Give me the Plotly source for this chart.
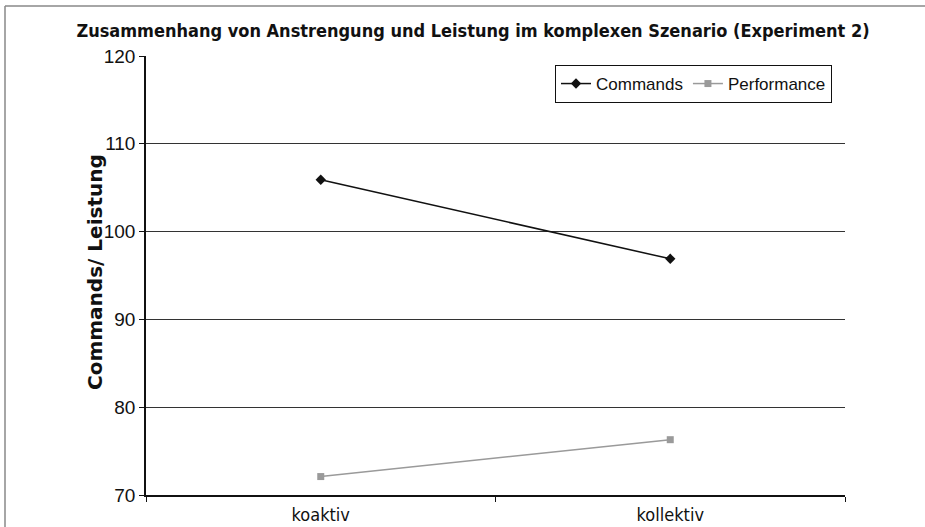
import plotly.graph_objects as go

categories = ["koaktiv", "kollektiv"]
commands = [105.9, 96.9]
performance = [72.1, 76.3]
y_ticks = [70, 80, 90, 100, 110, 120]

title_text = "Zusammenhang von Anstrengung und Leistung im komplexen Szenario (Experiment 2)"
y_title = "Commands/ Leistung"
narrow = "Liberation Sans Narrow, DejaVu Sans Condensed, Arial Narrow, sans-serif"
sans = "Liberation Sans, Arial, sans-serif"

fig = go.Figure()
fig.add_trace(go.Scatter(
    x=categories, y=commands, name="Commands", mode="lines+markers",
    line=dict(color="#111111", width=1.5),
    marker=dict(symbol="diamond", size=8, color="#111111"),
))
fig.add_trace(go.Scatter(
    x=categories, y=performance, name="Performance", mode="lines+markers",
    line=dict(color="#9a9a9a", width=1.5),
    marker=dict(symbol="square", size=7, color="#9a9a9a"),
))

L, R, T, B = 146, 80, 56, 32
W, H = 925, 527
pw, ph = W - L - R, H - T - B

fig.update_layout(
    width=W, height=H,
    margin=dict(l=L, r=R, t=T, b=B, pad=0, autoexpand=False),
    paper_bgcolor="white", plot_bgcolor="white",
    title=dict(text="<b>" + title_text + "</b>", x=473 / W, xanchor="center",
               y=1 - 31 / H, yanchor="middle",
               font=dict(family=narrow, size=18, color="#111111")),
    showlegend=True,
    legend=dict(orientation="h", x=(832 - L) / pw, xanchor="right",
                y=(H - B - 65) / ph, yanchor="top",
                bordercolor="#111111", borderwidth=1, bgcolor="white",
                font=dict(family=sans, size=17, color="#111111"),
                tracegroupgap=0),
    xaxis=dict(type="category", range=[-0.5, 1.5], showgrid=False, automargin=False,
               showline=True, linecolor="#111111", linewidth=1.5,
               ticks="outside", tickson="boundaries", ticklen=5, tickcolor="#111111",
               ticklabelstandoff=3,
               tickfont=dict(family=narrow, size=18, color="#111111"), fixedrange=True),
    yaxis=dict(range=[70, 120], tickvals=y_ticks, showgrid=True, gridcolor="#333333", gridwidth=1,
               automargin=False,
               showline=True, linecolor="#111111", linewidth=1.5, mirror=False,
               ticks="outside", ticklen=5, tickcolor="#111111", zeroline=False,
               tickfont=dict(family=sans, size=19, color="#111111")),
)

fig.add_annotation(text="<b>" + y_title + "</b>", xref="paper", yref="paper",
                   x=(95 - L) / pw, y=(H - B - 272) / ph, xanchor="center", yanchor="middle",
                   textangle=-90, showarrow=False,
                   font=dict(family="DejaVu Sans, sans-serif", size=20, color="#111111"))

# outer frame (left and top edges visible)
fx0 = (5 - L) / pw
fy1 = (H - B - 6) / ph
fig.add_shape(type="line", xref="paper", yref="paper", x0=fx0, x1=fx0, y0=fy1, y1=-0.2,
              line=dict(color="#888888", width=1.5))
fig.add_shape(type="line", xref="paper", yref="paper", x0=fx0, x1=1.2, y0=fy1, y1=fy1,
              line=dict(color="#888888", width=1.5))

fig.write_html("out.html", config={"displayModeBar": False},
               post_script="document.body.style.margin='0';")
